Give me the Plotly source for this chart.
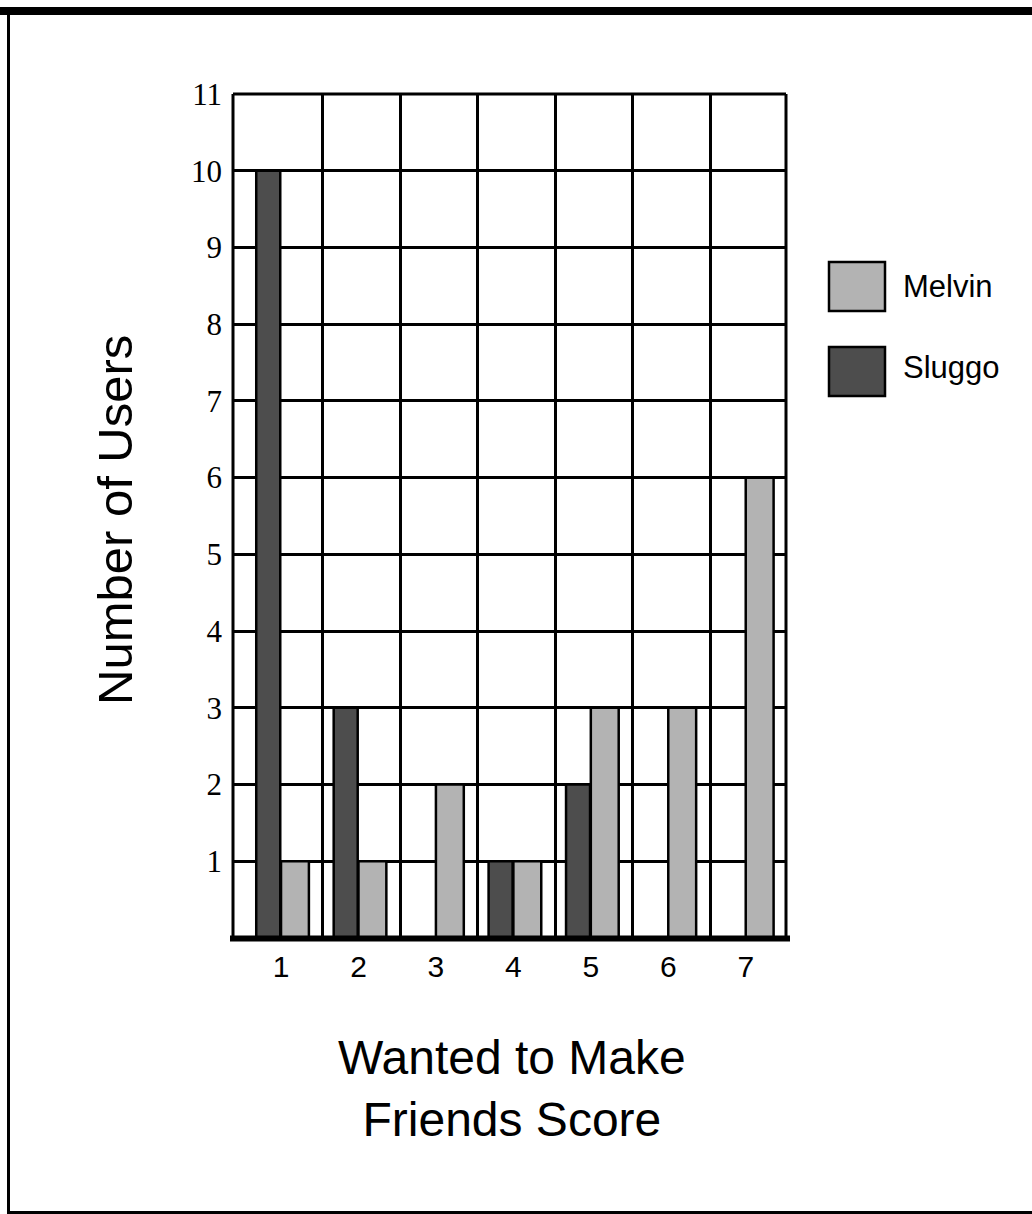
import plotly.graph_objects as go

# ---- data ----
scores = [1, 2, 3, 4, 5, 6, 7]
melvin = [1, 1, 2, 1, 3, 3, 6]
sluggo = [10, 3, 0, 1, 2, 0, 0]
series_names = ["Melvin", "Sluggo"]
y_ticks = list(range(1, 12))
x_title = "Wanted to Make<br>Friends Score"
y_title = "Number of Users"

LIGHT = "#b3b3b3"
DARK = "#4d4d4d"

W, H = 1032, 1214
L, R, T, B = 233, 786, 94, 938  # plot area in px


def px(x):
    return (x - L) / (R - L)


def py(y):
    return (B - y) / (B - T)


fig = go.Figure()
fig.add_trace(go.Bar(x=scores, y=sluggo, name=series_names[1], marker=dict(color=DARK, line=dict(color="black", width=2.5)),
                     offset=-0.32, width=0.31, showlegend=False))
fig.add_trace(go.Bar(x=scores, y=melvin, name=series_names[0], marker=dict(color=LIGHT, line=dict(color="black", width=2.5)),
                     offset=0.0, width=0.36, showlegend=False))

shapes = []
# plot frame (top, left, right) and thick baseline
shapes.append(dict(type="line", xref="paper", yref="paper", x0=0, x1=1, y0=1, y1=1, line=dict(color="black", width=3)))
shapes.append(dict(type="line", xref="paper", yref="paper", x0=0, x1=0, y0=0, y1=1, line=dict(color="black", width=3)))
shapes.append(dict(type="line", xref="paper", yref="paper", x0=1, x1=1, y0=0, y1=1, line=dict(color="black", width=3)))
shapes.append(dict(type="line", xref="paper", yref="paper", x0=px(230), x1=px(790), y0=py(938.5), y1=py(938.5),
                   line=dict(color="black", width=6)))
# outer page frame
shapes.append(dict(type="line", xref="paper", yref="paper", x0=px(0), x1=px(W), y0=py(11), y1=py(11), line=dict(color="black", width=8)))
shapes.append(dict(type="line", xref="paper", yref="paper", x0=px(8.5), x1=px(8.5), y0=py(7), y1=py(1214), line=dict(color="black", width=3)))
shapes.append(dict(type="line", xref="paper", yref="paper", x0=px(7), x1=px(W), y0=py(1212.5), y1=py(1212.5), line=dict(color="black", width=3)))

# legend swatches
legend_items = [(series_names[0], LIGHT, 262, 311, 286), (series_names[1], DARK, 347, 396, 367)]
annotations = []
for name, col, y0, y1, yt in legend_items:
    shapes.append(dict(type="rect", xref="paper", yref="paper", x0=px(829), x1=px(885), y0=py(y1), y1=py(y0),
                       fillcolor=col, line=dict(color="black", width=2.5)))
    annotations.append(dict(text=name, xref="paper", yref="paper", x=px(901), y=py(yt), xanchor="left", yanchor="middle",
                            showarrow=False, font=dict(family="Liberation Sans, Arial", size=31, color="black")))

annotations.append(dict(text=y_title, xref="paper", yref="paper", x=px(115), y=py(520), textangle=-90,
                        xanchor="center", yanchor="middle", showarrow=False,
                        font=dict(family="Liberation Sans, Arial", size=49, color="black")))
annotations.append(dict(text=x_title, xref="paper", yref="paper", x=px(512), y=py(1088),
                        xanchor="center", yanchor="middle", showarrow=False,
                        font=dict(family="Liberation Sans, Arial", size=48, color="black")))

fig.update_layout(
    width=W, height=H,
    margin=dict(l=L, r=W - R, t=T, b=H - B, pad=0),
    paper_bgcolor="white", plot_bgcolor="white",
    barmode="overlay",
    shapes=shapes, annotations=annotations,
    showlegend=False,
    xaxis=dict(range=[0.38, 7.52], tickmode="array", tickvals=scores, ticktext=[str(s) for s in scores],
               showgrid=False, zeroline=False, showline=False, ticks="",
               ticklabelstandoff=8,
               tickfont=dict(family="Liberation Sans, Arial", size=30, color="black"),
               minor=dict(tickmode="array", tickvals=[s + 0.54 for s in scores[:-1]], showgrid=True,
                          gridcolor="black", gridwidth=3, ticks="")),
    yaxis=dict(range=[0, 11], tickmode="array", tickvals=y_ticks,
               ticktext=[str(v) for v in y_ticks],
               showgrid=True, gridcolor="black", gridwidth=3, zeroline=False, showline=False, ticks="",
               ticklabelstandoff=10,
               tickfont=dict(family="Liberation Serif, Times New Roman", size=31, color="black")),
)

fig.write_html("out.html", config={"displayModeBar": False},
               post_script="document.body.style.margin='0px';document.body.style.overflow='hidden';")
